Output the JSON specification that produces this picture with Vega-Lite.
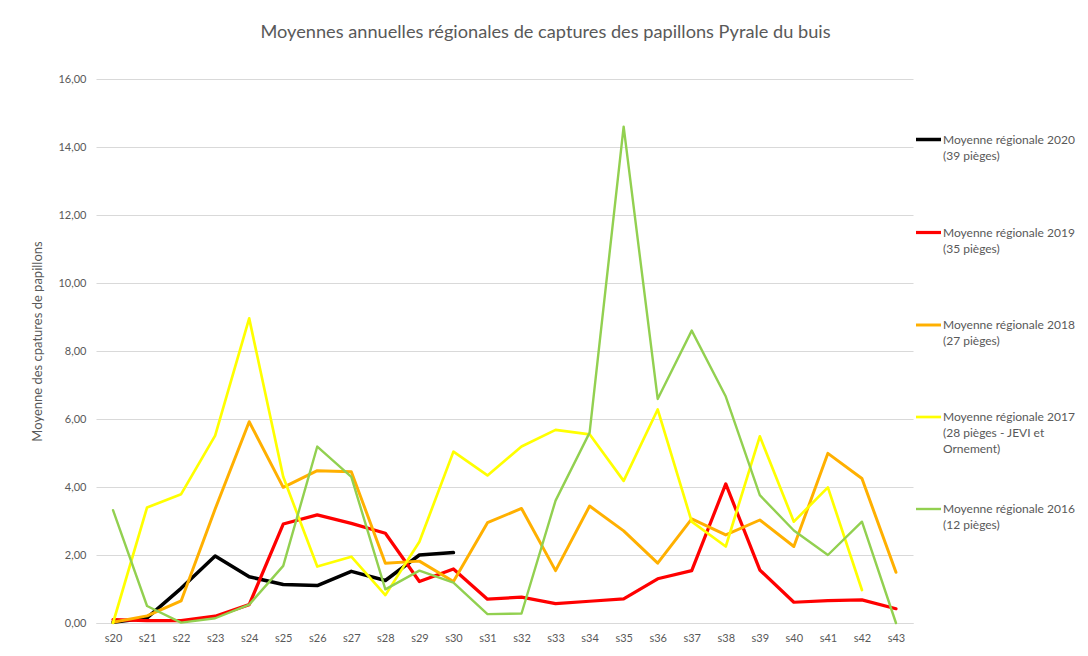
{
  "$schema": "https://vega.github.io/schema/vega-lite/v6.json",
  "width": 817,
  "height": 544,
  "autosize": "none",
  "padding": {"left": 96, "top": 79, "right": 175, "bottom": 33},
  "background": "white",
  "config": {
    "locale": {"number": {"decimal": ",", "thousands": " ", "grouping": [3], "currency": ["", " €"]}},
    "view": {"stroke": null},
    "font": "Lato",
    "style": {"guide-label": {"lineHeight": 16}}
  },
  "title": {
    "text": "Moyennes annuelles régionales de captures des papillons Pyrale du buis",
    "fontSize": 18.2,
    "font": "Lato",
    "fontWeight": "normal",
    "color": "#595959",
    "anchor": "middle",
    "offset": 31,
    "dx": 41
  },
  "data": {
    "values": [
      {"semaine": "s20", "serie": "Moyenne régionale 2020|(39 pièges)", "valeur": 0.02},
      {"semaine": "s21", "serie": "Moyenne régionale 2020|(39 pièges)", "valeur": 0.15},
      {"semaine": "s22", "serie": "Moyenne régionale 2020|(39 pièges)", "valeur": 1.02},
      {"semaine": "s23", "serie": "Moyenne régionale 2020|(39 pièges)", "valeur": 1.97},
      {"semaine": "s24", "serie": "Moyenne régionale 2020|(39 pièges)", "valeur": 1.36},
      {"semaine": "s25", "serie": "Moyenne régionale 2020|(39 pièges)", "valeur": 1.13},
      {"semaine": "s26", "serie": "Moyenne régionale 2020|(39 pièges)", "valeur": 1.10},
      {"semaine": "s27", "serie": "Moyenne régionale 2020|(39 pièges)", "valeur": 1.52},
      {"semaine": "s28", "serie": "Moyenne régionale 2020|(39 pièges)", "valeur": 1.25},
      {"semaine": "s29", "serie": "Moyenne régionale 2020|(39 pièges)", "valeur": 2.00},
      {"semaine": "s30", "serie": "Moyenne régionale 2020|(39 pièges)", "valeur": 2.07},

      {"semaine": "s20", "serie": "Moyenne régionale 2019|(35 pièges)", "valeur": 0.10},
      {"semaine": "s21", "serie": "Moyenne régionale 2019|(35 pièges)", "valeur": 0.07},
      {"semaine": "s22", "serie": "Moyenne régionale 2019|(35 pièges)", "valeur": 0.07},
      {"semaine": "s23", "serie": "Moyenne régionale 2019|(35 pièges)", "valeur": 0.20},
      {"semaine": "s24", "serie": "Moyenne régionale 2019|(35 pièges)", "valeur": 0.54},
      {"semaine": "s25", "serie": "Moyenne régionale 2019|(35 pièges)", "valeur": 2.91},
      {"semaine": "s26", "serie": "Moyenne régionale 2019|(35 pièges)", "valeur": 3.18},
      {"semaine": "s27", "serie": "Moyenne régionale 2019|(35 pièges)", "valeur": 2.93},
      {"semaine": "s28", "serie": "Moyenne régionale 2019|(35 pièges)", "valeur": 2.64},
      {"semaine": "s29", "serie": "Moyenne régionale 2019|(35 pièges)", "valeur": 1.22},
      {"semaine": "s30", "serie": "Moyenne régionale 2019|(35 pièges)", "valeur": 1.59},
      {"semaine": "s31", "serie": "Moyenne régionale 2019|(35 pièges)", "valeur": 0.70},
      {"semaine": "s32", "serie": "Moyenne régionale 2019|(35 pièges)", "valeur": 0.76},
      {"semaine": "s33", "serie": "Moyenne régionale 2019|(35 pièges)", "valeur": 0.57},
      {"semaine": "s34", "serie": "Moyenne régionale 2019|(35 pièges)", "valeur": 0.64},
      {"semaine": "s35", "serie": "Moyenne régionale 2019|(35 pièges)", "valeur": 0.71},
      {"semaine": "s36", "serie": "Moyenne régionale 2019|(35 pièges)", "valeur": 1.30},
      {"semaine": "s37", "serie": "Moyenne régionale 2019|(35 pièges)", "valeur": 1.54},
      {"semaine": "s38", "serie": "Moyenne régionale 2019|(35 pièges)", "valeur": 4.09},
      {"semaine": "s39", "serie": "Moyenne régionale 2019|(35 pièges)", "valeur": 1.56},
      {"semaine": "s40", "serie": "Moyenne régionale 2019|(35 pièges)", "valeur": 0.61},
      {"semaine": "s41", "serie": "Moyenne régionale 2019|(35 pièges)", "valeur": 0.66},
      {"semaine": "s42", "serie": "Moyenne régionale 2019|(35 pièges)", "valeur": 0.68},
      {"semaine": "s43", "serie": "Moyenne régionale 2019|(35 pièges)", "valeur": 0.42},

      {"semaine": "s20", "serie": "Moyenne régionale 2018|(27 pièges)", "valeur": 0.02},
      {"semaine": "s21", "serie": "Moyenne régionale 2018|(27 pièges)", "valeur": 0.21},
      {"semaine": "s22", "serie": "Moyenne régionale 2018|(27 pièges)", "valeur": 0.65},
      {"semaine": "s23", "serie": "Moyenne régionale 2018|(27 pièges)", "valeur": 3.35},
      {"semaine": "s24", "serie": "Moyenne régionale 2018|(27 pièges)", "valeur": 5.92},
      {"semaine": "s25", "serie": "Moyenne régionale 2018|(27 pièges)", "valeur": 3.99},
      {"semaine": "s26", "serie": "Moyenne régionale 2018|(27 pièges)", "valeur": 4.48},
      {"semaine": "s27", "serie": "Moyenne régionale 2018|(27 pièges)", "valeur": 4.45},
      {"semaine": "s28", "serie": "Moyenne régionale 2018|(27 pièges)", "valeur": 1.76},
      {"semaine": "s29", "serie": "Moyenne régionale 2018|(27 pièges)", "valeur": 1.82},
      {"semaine": "s30", "serie": "Moyenne régionale 2018|(27 pièges)", "valeur": 1.22},
      {"semaine": "s31", "serie": "Moyenne régionale 2018|(27 pièges)", "valeur": 2.95},
      {"semaine": "s32", "serie": "Moyenne régionale 2018|(27 pièges)", "valeur": 3.37},
      {"semaine": "s33", "serie": "Moyenne régionale 2018|(27 pièges)", "valeur": 1.54},
      {"semaine": "s34", "serie": "Moyenne régionale 2018|(27 pièges)", "valeur": 3.44},
      {"semaine": "s35", "serie": "Moyenne régionale 2018|(27 pièges)", "valeur": 2.71},
      {"semaine": "s36", "serie": "Moyenne régionale 2018|(27 pièges)", "valeur": 1.76},
      {"semaine": "s37", "serie": "Moyenne régionale 2018|(27 pièges)", "valeur": 3.06},
      {"semaine": "s38", "serie": "Moyenne régionale 2018|(27 pièges)", "valeur": 2.59},
      {"semaine": "s39", "serie": "Moyenne régionale 2018|(27 pièges)", "valeur": 3.03},
      {"semaine": "s40", "serie": "Moyenne régionale 2018|(27 pièges)", "valeur": 2.25},
      {"semaine": "s41", "serie": "Moyenne régionale 2018|(27 pièges)", "valeur": 4.99},
      {"semaine": "s42", "serie": "Moyenne régionale 2018|(27 pièges)", "valeur": 4.25},
      {"semaine": "s43", "serie": "Moyenne régionale 2018|(27 pièges)", "valeur": 1.49},

      {"semaine": "s20", "serie": "Moyenne régionale 2017|(28 pièges - JEVI et|Ornement)", "valeur": 0.00},
      {"semaine": "s21", "serie": "Moyenne régionale 2017|(28 pièges - JEVI et|Ornement)", "valeur": 3.40},
      {"semaine": "s22", "serie": "Moyenne régionale 2017|(28 pièges - JEVI et|Ornement)", "valeur": 3.79},
      {"semaine": "s23", "serie": "Moyenne régionale 2017|(28 pièges - JEVI et|Ornement)", "valeur": 5.51},
      {"semaine": "s24", "serie": "Moyenne régionale 2017|(28 pièges - JEVI et|Ornement)", "valeur": 8.96},
      {"semaine": "s25", "serie": "Moyenne régionale 2017|(28 pièges - JEVI et|Ornement)", "valeur": 4.30},
      {"semaine": "s26", "serie": "Moyenne régionale 2017|(28 pièges - JEVI et|Ornement)", "valeur": 1.66},
      {"semaine": "s27", "serie": "Moyenne régionale 2017|(28 pièges - JEVI et|Ornement)", "valeur": 1.95},
      {"semaine": "s28", "serie": "Moyenne régionale 2017|(28 pièges - JEVI et|Ornement)", "valeur": 0.82},
      {"semaine": "s29", "serie": "Moyenne régionale 2017|(28 pièges - JEVI et|Ornement)", "valeur": 2.39},
      {"semaine": "s30", "serie": "Moyenne régionale 2017|(28 pièges - JEVI et|Ornement)", "valeur": 5.04},
      {"semaine": "s31", "serie": "Moyenne régionale 2017|(28 pièges - JEVI et|Ornement)", "valeur": 4.34},
      {"semaine": "s32", "serie": "Moyenne régionale 2017|(28 pièges - JEVI et|Ornement)", "valeur": 5.19},
      {"semaine": "s33", "serie": "Moyenne régionale 2017|(28 pièges - JEVI et|Ornement)", "valeur": 5.68},
      {"semaine": "s34", "serie": "Moyenne régionale 2017|(28 pièges - JEVI et|Ornement)", "valeur": 5.55},
      {"semaine": "s35", "serie": "Moyenne régionale 2017|(28 pièges - JEVI et|Ornement)", "valeur": 4.18},
      {"semaine": "s36", "serie": "Moyenne régionale 2017|(28 pièges - JEVI et|Ornement)", "valeur": 6.28},
      {"semaine": "s37", "serie": "Moyenne régionale 2017|(28 pièges - JEVI et|Ornement)", "valeur": 2.98},
      {"semaine": "s38", "serie": "Moyenne régionale 2017|(28 pièges - JEVI et|Ornement)", "valeur": 2.25},
      {"semaine": "s39", "serie": "Moyenne régionale 2017|(28 pièges - JEVI et|Ornement)", "valeur": 5.49},
      {"semaine": "s40", "serie": "Moyenne régionale 2017|(28 pièges - JEVI et|Ornement)", "valeur": 2.98},
      {"semaine": "s41", "serie": "Moyenne régionale 2017|(28 pièges - JEVI et|Ornement)", "valeur": 3.99},
      {"semaine": "s42", "serie": "Moyenne régionale 2017|(28 pièges - JEVI et|Ornement)", "valeur": 0.97},

      {"semaine": "s20", "serie": "Moyenne régionale 2016|(12 pièges)", "valeur": 3.32},
      {"semaine": "s21", "serie": "Moyenne régionale 2016|(12 pièges)", "valeur": 0.50},
      {"semaine": "s22", "serie": "Moyenne régionale 2016|(12 pièges)", "valeur": 0.01},
      {"semaine": "s23", "serie": "Moyenne régionale 2016|(12 pièges)", "valeur": 0.14},
      {"semaine": "s24", "serie": "Moyenne régionale 2016|(12 pièges)", "valeur": 0.54},
      {"semaine": "s25", "serie": "Moyenne régionale 2016|(12 pièges)", "valeur": 1.68},
      {"semaine": "s26", "serie": "Moyenne régionale 2016|(12 pièges)", "valeur": 5.19},
      {"semaine": "s27", "serie": "Moyenne régionale 2016|(12 pièges)", "valeur": 4.30},
      {"semaine": "s28", "serie": "Moyenne régionale 2016|(12 pièges)", "valeur": 0.99},
      {"semaine": "s29", "serie": "Moyenne régionale 2016|(12 pièges)", "valeur": 1.54},
      {"semaine": "s30", "serie": "Moyenne régionale 2016|(12 pièges)", "valeur": 1.19},
      {"semaine": "s31", "serie": "Moyenne régionale 2016|(12 pièges)", "valeur": 0.26},
      {"semaine": "s32", "serie": "Moyenne régionale 2016|(12 pièges)", "valeur": 0.28},
      {"semaine": "s33", "serie": "Moyenne régionale 2016|(12 pièges)", "valeur": 3.60},
      {"semaine": "s34", "serie": "Moyenne régionale 2016|(12 pièges)", "valeur": 5.60},
      {"semaine": "s35", "serie": "Moyenne régionale 2016|(12 pièges)", "valeur": 14.60},
      {"semaine": "s36", "serie": "Moyenne régionale 2016|(12 pièges)", "valeur": 6.59},
      {"semaine": "s37", "serie": "Moyenne régionale 2016|(12 pièges)", "valeur": 8.60},
      {"semaine": "s38", "serie": "Moyenne régionale 2016|(12 pièges)", "valeur": 6.66},
      {"semaine": "s39", "serie": "Moyenne régionale 2016|(12 pièges)", "valeur": 3.76},
      {"semaine": "s40", "serie": "Moyenne régionale 2016|(12 pièges)", "valeur": 2.72},
      {"semaine": "s41", "serie": "Moyenne régionale 2016|(12 pièges)", "valeur": 2.00},
      {"semaine": "s42", "serie": "Moyenne régionale 2016|(12 pièges)", "valeur": 2.98},
      {"semaine": "s43", "serie": "Moyenne régionale 2016|(12 pièges)", "valeur": 0.00}
    ]
  },
  "mark": {"type": "line", "strokeJoin": "round", "strokeCap": "round"},
  "encoding": {
    "x": {
      "field": "semaine",
      "type": "ordinal",
      "scale": {"type": "point", "padding": 0.5},
      "axis": {
        "title": null,
        "labelAngle": 0,
        "ticks": false,
        "grid": false,
        "domainColor": "#D9D9D9",
        "labelColor": "#595959",
        "labelFontSize": 11,
        "labelPadding": 9
      }
    },
    "y": {
      "field": "valeur",
      "type": "quantitative",
      "scale": {"domain": [0, 16], "nice": false},
      "axis": {
        "title": "Moyenne des cpatures de papillons",
        "titleColor": "#595959",
        "titleFontSize": 13,
        "titleFontWeight": "normal",
        "titleX": -59,
        "titleY": 262,
        "titleBaseline": "middle",
        "values": [0, 2, 4, 6, 8, 10, 12, 14, 16],
        "format": ".2f",
        "domain": false,
        "ticks": false,
        "gridColor": "#D9D9D9",
        "labelPadding": 10,
        "labelFontSize": 11,
        "labelColor": "#595959"
      }
    },
    "color": {
      "field": "serie",
      "type": "nominal",
      "scale": {
        "domain": [
          "Moyenne régionale 2020|(39 pièges)",
          "Moyenne régionale 2019|(35 pièges)",
          "Moyenne régionale 2018|(27 pièges)",
          "Moyenne régionale 2017|(28 pièges - JEVI et|Ornement)",
          "Moyenne régionale 2016|(12 pièges)"
        ],
        "range": ["#000000", "#FF0000", "#FFB000", "#FFFF00", "#92D050"]
      },
      "legend": {
        "title": null,
        "orient": "none",
        "legendX": 818,
        "legendY": 46,
        "symbolType": "stroke",
        "symbolSize": 625,
        "symbolStrokeWidth": 2.5,
        "labelExpr": "split(datum.label + (length(split(datum.label, '|')) < 3 ? '| ' : ''), '|')",
        "labelFontSize": 12,
        "labelColor": "#595959",
        "labelLimit": 200,
        "rowPadding": 40,
        "labelOffset": 0,
        "labelBaseline": "middle"
      }
    },
    "strokeWidth": {
      "field": "serie",
      "type": "nominal",
      "scale": {
        "domain": [
          "Moyenne régionale 2020|(39 pièges)",
          "Moyenne régionale 2019|(35 pièges)",
          "Moyenne régionale 2018|(27 pièges)",
          "Moyenne régionale 2017|(28 pièges - JEVI et|Ornement)",
          "Moyenne régionale 2016|(12 pièges)"
        ],
        "range": [3.5, 2.4, 2.4, 2.4, 2.4]
      },
      "legend": null
    }
  }
}
